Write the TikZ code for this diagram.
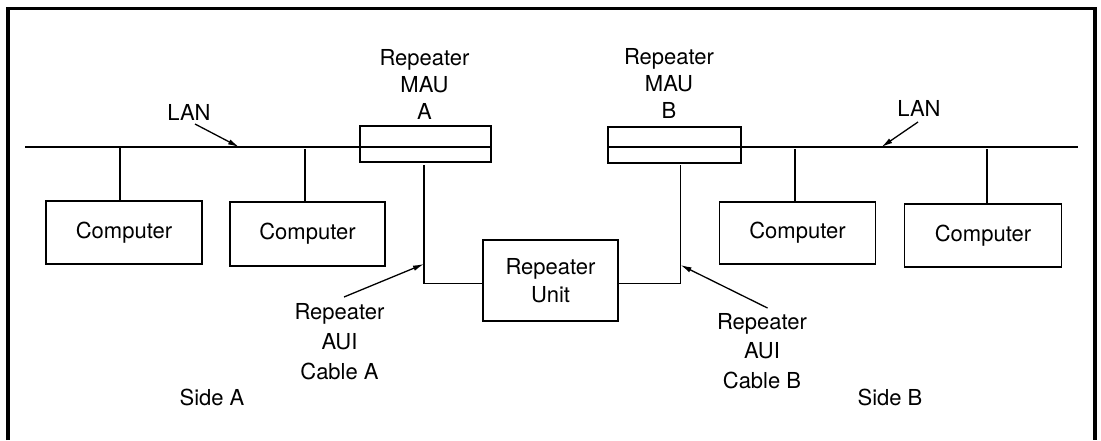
\documentclass[tikz,border=0pt]{standalone}
\usepackage{fontspec}
\setmainfont{TeX Gyre Heros}
\usetikzlibrary{arrows.meta}
\begin{document}
\begin{tikzpicture}[x=1pt,y=-1pt,
  every node/.style={font=\fontsize{22}{27}\selectfont},
  box/.style={draw,line width=1.4pt,inner sep=0pt,rectangle},
  lbl/.style={inner sep=0pt,align=center},
  wire/.style={line width=1.3pt},
  arr/.style={line width=1.3pt,-{Latex[length=11pt,width=5.5pt]}},
  frame/.style={line width=3.5pt}]
\useasboundingbox (0,0) rectangle (1101,440);
% frame
\coordinate (fbl) at (8,440);
\coordinate (ftl) at (8,8.5);
\coordinate (ftr) at (1095,8.5);
\coordinate (fbr) at (1095,440);
\draw[frame] (fbl) -- (ftl) -- (ftr) -- (fbr);
% boxes
\node[box,minimum width=156pt,minimum height=63pt] (c1) at (124,232.5) {Computer};
\node[box,minimum width=155pt,minimum height=64pt] (c2) at (307.5,234) {Computer};
\node[box,minimum width=156pt,minimum height=62pt] (c3) at (797.5,233) {Computer};
\node[box,minimum width=157pt,minimum height=63pt] (c4) at (983,235.5) {Computer};
\node[box,minimum width=131pt,minimum height=36pt] (mauA) at (425.5,144) {};
\node[box,minimum width=133pt,minimum height=36pt] (mauB) at (674.5,145) {};
\node[box,lbl,minimum width=135pt,minimum height=81pt,font=\fontsize{22}{28}\selectfont] (ru) at (550.5,280.5) {Repeater\\Unit};
% LAN lines
\coordinate (lanL) at (25,147);
\coordinate (lanR) at (1078,147);
\draw[wire] (lanL) -- (lanL -| mauA.east);
\draw[wire] (lanR -| mauB.west) -- (lanR);
% stubs
\draw[wire] ([xshift=-4pt]c1.north) -- ([xshift=-4pt]c1.north |- lanL);
\draw[wire] ([xshift=-2.5pt]c2.north) -- ([xshift=-2.5pt,yshift=-2pt]c2.north |- lanL);
\draw[wire] ([xshift=-2.5pt]c3.north) -- ([xshift=-2.5pt,yshift=-2pt]c3.north |- lanR);
\draw[wire] ([xshift=4pt]c4.north) -- ([xshift=4pt,yshift=-2pt]c4.north |- lanR);
% AUI cables
\coordinate (aA) at (424,165);
\coordinate (aB) at (680.5,165);
\draw[wire] (aA) |- ([yshift=-3pt]ru.west);
\draw[wire] ([yshift=-3pt]ru.east) -| (aB);
% labels
\node[lbl] (lblMauA) at (424.5,84) {Repeater\\MAU\\A};
\node[lbl] (lblMauB) at (669,83.5) {Repeater\\MAU\\B};
\node[lbl] (lanLblL) at (189,112) {LAN};
\node[lbl] (lanLblR) at (919,108) {LAN};
\node[lbl,font=\fontsize{22}{30}\selectfont] (auiA) at (339.5,342) {Repeater\\AUI\\Cable A};
\node[lbl,font=\fontsize{22}{29.5}\selectfont] (auiB) at (762,351) {Repeater\\AUI\\Cable B};
\node[lbl] (sideA) at (212,397) {Side A};
\node[lbl] (sideB) at (890,397) {Side B};
% arrows
\coordinate (lanAs) at (195,124);
\coordinate (lanAt) at (239,147);
\coordinate (lanBs) at (918,122);
\coordinate (lanBt) at (881.5,147);
\coordinate (auiAs) at (344,297);
\coordinate (auiAt) at (424,264);
\coordinate (auiBs) at (767.5,308);
\coordinate (auiBt) at (680.5,265);
\draw[arr] (lanAs) -- (lanAt);
\draw[arr] (lanBs) -- (lanBt);
\draw[arr] (auiAs) -- (auiAt);
\draw[arr] (auiBs) -- (auiBt);
\end{tikzpicture}
\end{document}
